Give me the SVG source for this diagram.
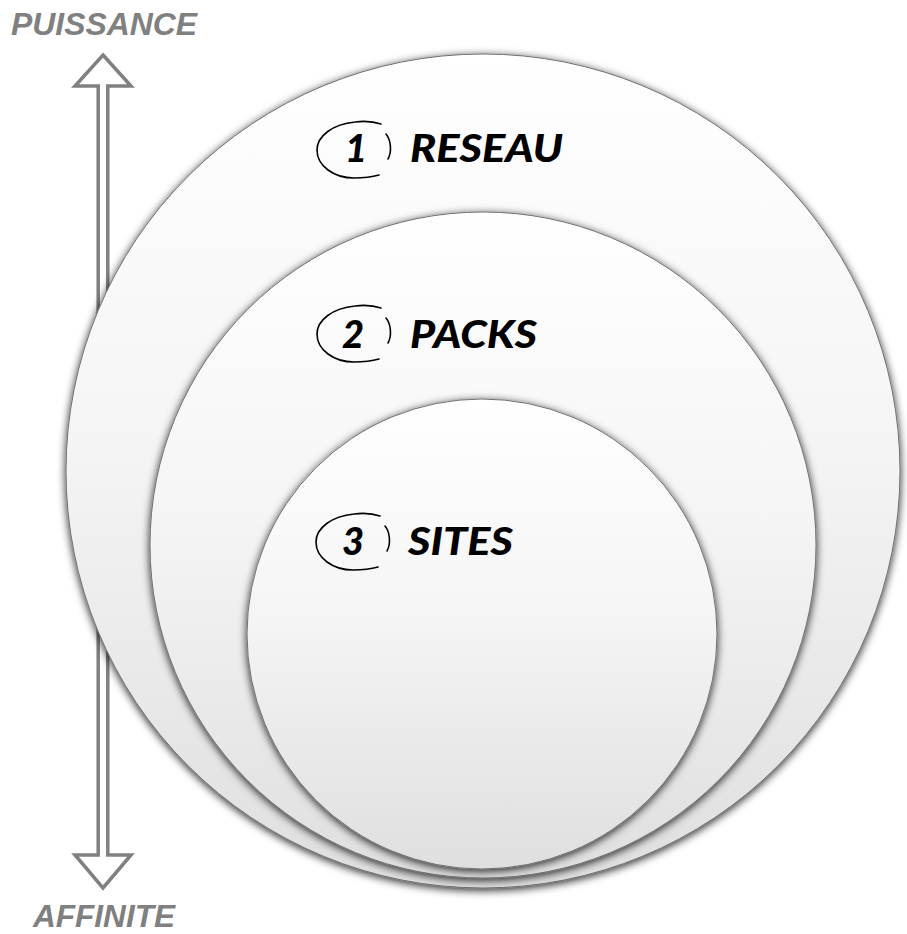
<svg xmlns="http://www.w3.org/2000/svg" width="907" height="934" viewBox="0 0 907 934">
<style>
.axis{font-family:"Liberation Sans",Arial,sans-serif;font-weight:bold;font-style:italic;font-size:31px;fill:#808080}
.lbl{font-family:Lato,"Open Sans",sans-serif;font-weight:900;font-style:italic;font-size:38px;fill:#000}
.oval{fill:none;stroke:#000;stroke-width:1.6;stroke-linecap:round}
.disc{fill:url(#g);stroke:#707070;stroke-width:1;filter:url(#sh)}
.arrow{fill:#fff;stroke:#808080;stroke-width:3.5;stroke-linejoin:miter}
</style>
<defs>
<linearGradient id="g" x1="0" y1="0" x2="0" y2="1">
<stop offset="0" stop-color="#ffffff"/>
<stop offset="0.45" stop-color="#f5f5f5"/>
<stop offset="1" stop-color="#dfdfdf"/>
</linearGradient>
<filter id="sh" x="-10%" y="-10%" width="120%" height="120%">
<feGaussianBlur in="SourceAlpha" stdDeviation="4"/>
<feOffset dx="0" dy="2" result="b"/>
<feFlood flood-color="#000" flood-opacity="0.85"/>
<feComposite in2="b" operator="in"/>
<feMerge><feMergeNode/><feMergeNode in="SourceGraphic"/></feMerge>
</filter>
<g id="ov">
<path class="oval" d="M381,124 C372,121 363,121 355,122 C333,124 317,136 317,150 C317,166 334,178 354,178 C363,178 372,177 379,175"/>
<path class="oval" d="M386,134 C391,140 392,152 388,159"/>
</g>
</defs>
<rect width="907" height="934" fill="#fff"/>
<g id="connectors">
<path class="arrow" d="M103,55 L131,86 L107.8,86 L107.8,855 L131,855 L103,888 L75,855 L98.2,855 L98.2,86 L75,86 Z"/>
</g>
<g id="axis-labels">
<text class="axis" x="11" y="35" textLength="186" lengthAdjust="spacingAndGlyphs">PUISSANCE</text>
<text class="axis" x="33" y="927" textLength="142" lengthAdjust="spacingAndGlyphs">AFFINITE</text>
</g>
<g id="node-reseau">
<circle class="disc" cx="483" cy="471" r="417"/>
<use href="#ov"/>
<text class="lbl" x="345" y="162">1</text>
<text class="lbl" x="410" y="162" textLength="153" lengthAdjust="spacingAndGlyphs">RESEAU</text>
</g>
<g id="node-packs">
<circle class="disc" cx="483" cy="545" r="333"/>
<use href="#ov" transform="translate(0,184)"/>
<text class="lbl" x="342" y="348">2</text>
<text class="lbl" x="410" y="348" textLength="127" lengthAdjust="spacingAndGlyphs">PACKS</text>
</g>
<g id="node-sites">
<circle class="disc" cx="482" cy="634" r="235"/>
<use href="#ov" transform="translate(-1,392)"/>
<text class="lbl" x="342" y="555">3</text>
<text class="lbl" x="408" y="555" textLength="105" lengthAdjust="spacingAndGlyphs">SITES</text>
</g>
</svg>
